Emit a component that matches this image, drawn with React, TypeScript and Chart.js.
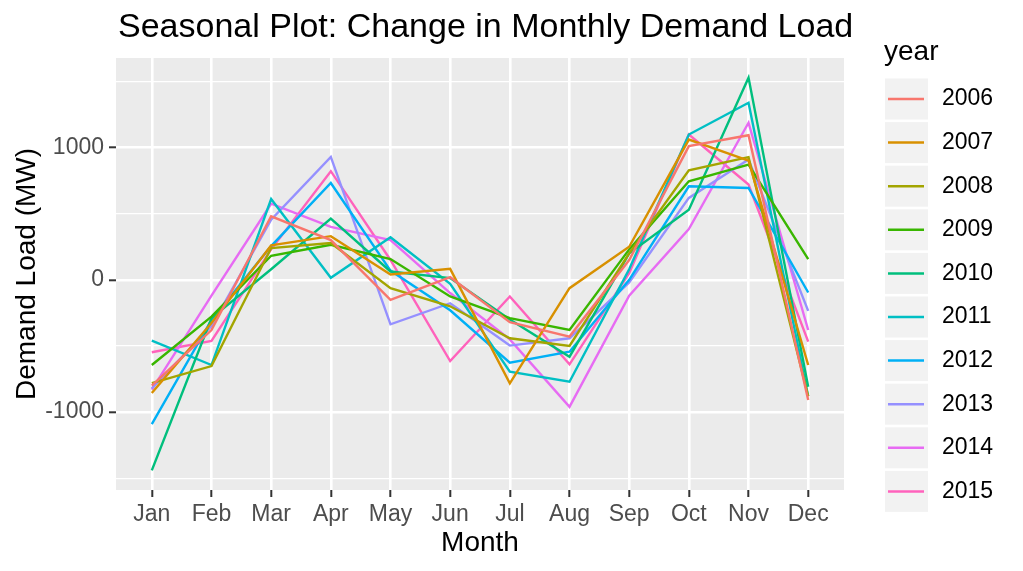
import React, { useEffect, useRef } from "react";
import { Chart, registerables } from "chart.js";

Chart.register(...registerables);

const months = ["Jan", "Feb", "Mar", "Apr", "May", "Jun", "Jul", "Aug", "Sep", "Oct", "Nov", "Dec"];
const years = ["2006", "2007", "2008", "2009", "2010", "2011", "2012", "2013", "2014", "2015"];
const colors = ["#F8766D", "#D89000", "#A3A500", "#39B600", "#00BF7D", "#00BFC4", "#00B0F6", "#9590FF", "#E76BF3", "#FF62BC"];

const y2006 = [-800, -380, 480, 300, -152, 20, -320, -429, 150, 1010, 1093, -909];
const y2007 = [-856, -327, 260, 330, 40, 83, -783, -63, 250, 1060, 900, -644];
const y2008 = [-780, -652, 240, 278, -63, -200, -442, -500, 200, 828, 927, -880];
const y2009 = [-644, -278, 182, 265, 157, -126, -290, -379, 230, 745, 871, 157];
const y2010 = [-1440, -290, 80, 462, 63, 13, -300, -581, 200, 530, 1528, -808];
const y2011 = [-460, -644, 611, 15, 321, -30, -694, -770, 80, 1098, 1338, -880];
const y2012 = [-1090, -303, 255, 732, 70, -230, -626, -543, 0, 707, 694, -96];
const y2013 = [-820, -350, 455, 929, -336, -177, -497, -442, -20, 619, 909, -235];
const y2014 = [-830, -120, 575, 400, 300, -100, -450, -960, -120, 384, 1187, -379];
const y2015 = [-547, -462, 230, 821, 150, -614, -126, -639, 50, 1098, 720, -467];

const series = [y2006, y2007, y2008, y2009, y2010, y2011, y2012, y2013, y2014, y2015];

const yMajor = [-1000, 0, 1000];
const yTicks = [-1500, -1000, -500, 0, 500, 1000, 1500];

const TITLE = "Seasonal Plot: Change in Monthly Demand Load";
const X_TITLE = "Month";
const Y_TITLE = "Demand Load (MW)";
const LEGEND_TITLE = "year";

const FONT = "'Liberation Sans', Arial, sans-serif";

export default function App() {
  const ref = useRef<HTMLCanvasElement | null>(null);

  useEffect(() => {
    const canvas = ref.current;
    if (!canvas) return;
    const all = series.flat();
    const lo = Math.min(...all);
    const hi = Math.max(...all);
    const pad = (hi - lo) * 0.05;

    const decor = {
      id: "decor",
      beforeDraw(chart: any) {
        const { ctx, chartArea } = chart;
        ctx.save();
        ctx.fillStyle = "#FFFFFF";
        ctx.fillRect(0, 0, chart.width, chart.height);
        ctx.fillStyle = "#EBEBEB";
        ctx.fillRect(chartArea.left, chartArea.top, chartArea.right - chartArea.left, chartArea.bottom - chartArea.top);
        ctx.restore();
      },
      afterDraw(chart: any) {
        const { ctx, chartArea } = chart;
        ctx.save();
        ctx.fillStyle = "#000000";
        // title
        ctx.font = `34px ${FONT}`;
        ctx.textAlign = "left";
        ctx.textBaseline = "middle";
        ctx.fillText(TITLE, chartArea.left + 2, 28);
        // x title
        ctx.font = `28px ${FONT}`;
        ctx.textAlign = "center";
        ctx.fillText(X_TITLE, (chartArea.left + chartArea.right) / 2, 543);
        // y title
        ctx.save();
        ctx.translate(27, (chartArea.top + chartArea.bottom) / 2);
        ctx.rotate(-Math.PI / 2);
        ctx.fillText(Y_TITLE, 0, 0);
        ctx.restore();
        // legend
        ctx.textAlign = "left";
        ctx.font = `28px ${FONT}`;
        ctx.fillText(LEGEND_TITLE, 884, 52);
        ctx.font = `23px ${FONT}`;
        years.forEach((yr, i) => {
          const cy = 99 + i * 43.6;
          ctx.fillStyle = "#F2F2F2";
          ctx.fillRect(885, cy - 20.5, 43, 41);
          ctx.strokeStyle = colors[i];
          ctx.lineWidth = 2.5;
          ctx.beginPath();
          ctx.moveTo(888, cy);
          ctx.lineTo(924, cy);
          ctx.stroke();
          ctx.fillStyle = "#000000";
          ctx.fillText(yr, 942, cy);
        });
        ctx.restore();
      },
    };

    const chart = new Chart(canvas, {
      type: "line",
      data: {
        datasets: series.map((s, i) => ({
          label: years[i],
          data: s.map((v, j) => ({ x: j, y: v })),
          borderColor: colors[i],
          backgroundColor: colors[i],
          borderWidth: 2.4,
          pointRadius: 0,
          tension: 0,
          fill: false,
        })),
      },
      options: {
        animation: false,
        responsive: false,
        devicePixelRatio: 1,
        layout: { padding: { left: 0, top: 58, right: 179, bottom: 0 } },
        plugins: {
          legend: { display: false },
          title: { display: false },
          tooltip: { enabled: false },
        },
        scales: {
          x: {
            type: "linear",
            min: -0.6,
            max: 11.6,
            afterBuildTicks(axis: any) {
              axis.ticks = months.map((_, i) => ({ value: i }));
            },
            afterFit(axis: any) {
              axis.height = 81;
            },
            ticks: {
              callback: (v: any) => months[v] ?? "",
              color: "#4D4D4D",
              font: { family: FONT, size: 23 },
              padding: 4,
              maxRotation: 0,
              autoSkip: false,
            },
            grid: { color: "#FFFFFF", lineWidth: 2.6, tickColor: "#333333", tickLength: 7, tickWidth: 2 },
            border: { display: false },
          },
          y: {
            type: "linear",
            min: lo - pad,
            max: hi + pad,
            afterBuildTicks(axis: any) {
              axis.ticks = yTicks.map((v) => ({ value: v }));
            },
            afterFit(axis: any) {
              axis.width = 116;
            },
            ticks: {
              callback: (v: any) => (yMajor.includes(v) ? String(v) : ""),
              color: "#4D4D4D",
              font: { family: FONT, size: 23 },
              padding: 5,
            },
            grid: {
              color: "#FFFFFF",
              lineWidth: (c: any) => (yMajor.includes(c.tick?.value) ? 2.6 : 1.3),
              tickColor: (c: any) => (yMajor.includes(c.tick?.value) ? "#333333" : "rgba(0,0,0,0)"),
              tickLength: 7,
              tickWidth: 2,
            },
            border: { display: false },
          },
        },
      },
      plugins: [decor],
    } as any);

    return () => chart.destroy();
  }, []);

  return (
    <div style={{ position: "absolute", left: 0, top: 0, width: 1023, height: 571 }}>
      <canvas ref={ref} width={1023} height={571} style={{ display: "block" }} />
    </div>
  );
}
